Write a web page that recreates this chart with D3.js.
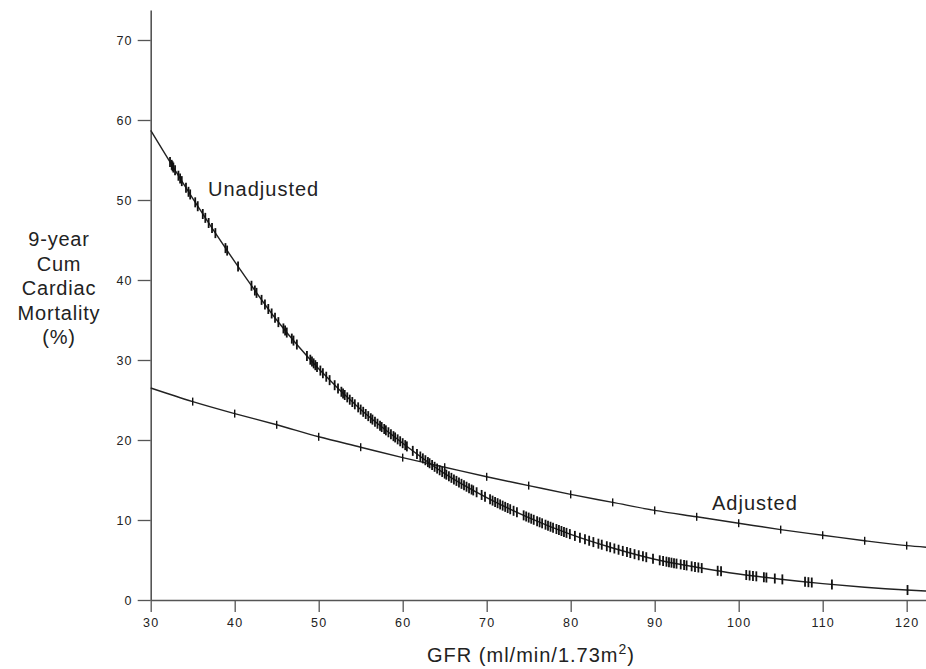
<!DOCTYPE html>
<html>
<head>
<meta charset="utf-8">
<script src="https://cdn.jsdelivr.net/npm/d3@7"></script>
<style>
  html, body { margin: 0; padding: 0; background: #fff; }
  svg { display: block; }
  text { font-family: "Liberation Sans", Arial, sans-serif; fill: #222; }
</style>
</head>
<body>
<svg id="chart" width="926" height="669"></svg>
<script>
// ---- data ----
const gfrTicks = [30, 40, 50, 60, 70, 80, 90, 100, 110, 120];
const mortalityTicks = [0, 10, 20, 30, 40, 50, 60, 70];

const adjustedGfr = [30, 35, 40, 45, 50, 55, 60, 65, 70, 75, 80, 85, 90, 95, 100, 105, 110, 115, 120, 122.3];
const adjustedMortality = [26.5, 24.8, 23.3, 21.9, 20.4, 19.1, 17.8, 16.6, 15.4, 14.3, 13.2, 12.2, 11.2, 10.4, 9.6, 8.8, 8.1, 7.4, 6.8, 6.6];
const adjustedMarks = [35, 40, 45, 50, 55, 60, 65, 70, 75, 80, 85, 90, 95, 100, 105, 110, 115, 120];

const unadjustedGfr = [30, 35, 40, 45, 50, 55, 60, 65, 70, 75, 80, 85, 90, 95, 100, 105, 110, 115, 120, 122.3];
const unadjustedMortality = [58.7, 50.2, 42.3, 35.0, 28.9, 23.8, 19.6, 15.8, 12.8, 10.3, 8.2, 6.5, 5.1, 4.1, 3.25, 2.6, 2.05, 1.6, 1.25, 1.12];
const unadjustedMarks = [
  32.3, 32.5, 32.6, 32.7, 32.9, 33.3, 33.5, 33.7, 34.2, 34.5, 34.7, 35.3, 35.6, 36.2, 36.5, 36.9, 37.3, 37.7,
  38.9, 39.1, 40.4, 42.0, 42.4, 42.6, 43.2, 43.6, 44.0, 44.4, 44.8, 45.2, 45.8, 46.0, 46.2, 46.8, 47.0, 47.4,
  48.6, 49.0, 49.2, 49.4, 49.6, 49.8, 50.2, 50.5, 50.9, 51.3, 51.9, 52.3, 52.7, 52.9, 53.1, 53.4, 53.7, 54.0,
  54.3, 54.7, 55.0, 55.3, 55.6, 55.9, 56.2, 56.4, 56.7, 57.0, 57.3, 57.5, 57.8, 58.0, 58.3, 58.6, 58.9, 59.1,
  59.4, 59.7, 60.0, 60.3, 60.5, 61.2, 61.7, 62.1, 62.4, 62.7, 63.0, 63.2, 63.5, 63.8, 64.1, 64.4, 64.7, 65.0,
  65.2, 65.5, 65.8, 66.1, 66.4, 66.7, 67.0, 67.3, 67.6, 67.9, 68.2, 68.4, 68.8, 69.4, 69.8, 70.4, 70.7, 71.0,
  71.3, 71.6, 71.9, 72.2, 72.5, 72.8, 73.2, 73.6, 74.4, 74.7, 75.0, 75.3, 75.6, 76.0, 76.3, 76.6, 77.0, 77.3,
  77.6, 77.9, 78.3, 78.6, 78.9, 79.2, 79.5, 79.9, 80.5, 81.1, 81.7, 82.2, 82.7, 83.3, 83.7, 84.3, 84.7, 85.2,
  85.7, 86.2, 86.7, 87.1, 87.6, 88.1, 88.6, 89.0, 89.8, 90.6, 91.0, 91.4, 91.7, 92.0, 92.3, 92.6, 93.1, 93.5,
  93.8, 94.4, 94.8, 95.2, 95.6, 97.5, 97.9, 100.9, 101.3, 101.7, 102.1, 103.0, 103.3, 104.3, 105.2, 107.9,
  108.3, 108.7, 111.1, 120.1
];
const yTitleLines = ["9-year", "Cum", "Cardiac", "Mortality", "(%)"];

// ---- layout ----
const svg = d3.select("#chart");
const x = d3.scaleLinear().domain([30, 122.3]).range([150.7, 926]);
const y = d3.scaleLinear().domain([0, 73.75]).range([600, 10]);

const axisColor = "#555";

// y axis
const yAxis = svg.append("g").attr("transform", `translate(${x(30)},0)`)
  .call(d3.axisLeft(y).tickValues(mortalityTicks).tickSize(13).tickPadding(5).tickSizeOuter(0));
yAxis.select(".domain").attr("stroke", axisColor).attr("stroke-width", 1.6);
yAxis.selectAll(".tick line").attr("stroke", axisColor).attr("stroke-width", 1.3);
yAxis.selectAll(".tick text").attr("font-size", 12.5).attr("letter-spacing", 1.2)
  .attr("font-family", "'Liberation Sans', Arial, sans-serif").attr("fill", "#222").attr("dy", "0.36em");

// x axis
const xAxis = svg.append("g").attr("transform", `translate(0,${y(0)})`)
  .call(d3.axisBottom(x).tickValues(gfrTicks).tickSize(12).tickPadding(6).tickSizeOuter(0));
xAxis.select(".domain").attr("stroke", axisColor).attr("stroke-width", 1.6);
xAxis.selectAll(".tick line").attr("stroke", axisColor).attr("stroke-width", 1.3);
xAxis.selectAll(".tick text").attr("font-size", 12.5).attr("letter-spacing", 1.2)
  .attr("font-family", "'Liberation Sans', Arial, sans-serif").attr("fill", "#222");

// curves
const line = d3.line().x(d => x(d[0])).y(d => y(d[1])).curve(d3.curveMonotoneX);
const adjData = adjustedGfr.map((g, i) => [g, adjustedMortality[i]]);
const unadjData = unadjustedGfr.map((g, i) => [g, unadjustedMortality[i]]);

const adjPath = svg.append("path").datum(adjData).attr("d", line)
  .attr("fill", "none").attr("stroke", "#222").attr("stroke-width", 1.4);
const unadjPath = svg.append("path").datum(unadjData).attr("d", line)
  .attr("fill", "none").attr("stroke", "#222").attr("stroke-width", 1.4);

// find the y of a drawn path at a given screen x
function yOnPath(pathNode, px) {
  const total = pathNode.getTotalLength();
  let lo = 0, hi = total;
  for (let k = 0; k < 40; k++) {
    const mid = (lo + hi) / 2;
    const p = pathNode.getPointAtLength(mid);
    if (p.x < px) lo = mid; else hi = mid;
  }
  return pathNode.getPointAtLength((lo + hi) / 2).y;
}

function drawMarks(pathSel, marks, half, width) {
  const node = pathSel.node();
  svg.append("g").selectAll("line").data(marks).join("line")
    .attr("x1", d => x(d)).attr("x2", d => x(d))
    .attr("y1", d => yOnPath(node, x(d)) - half)
    .attr("y2", d => yOnPath(node, x(d)) + half)
    .attr("stroke", "#111").attr("stroke-width", width);
}
drawMarks(adjPath, adjustedMarks, 4, 1.4);
drawMarks(unadjPath, unadjustedMarks, 5, 1.8);

// curve labels
svg.append("text").attr("x", 208).attr("y", 196).attr("font-size", 20).attr("letter-spacing", 1)
  .text("Unadjusted");
svg.append("text").attr("x", 712).attr("y", 510).attr("font-size", 20).attr("letter-spacing", 1)
  .text("Adjusted");

// y title
const yTitle = svg.append("text").attr("text-anchor", "middle").attr("font-size", 20).attr("letter-spacing", 0.8);
yTitle.selectAll("tspan").data(yTitleLines).join("tspan")
  .attr("x", 59).attr("y", (d, i) => 246 + i * 24.5).text(d => d);

// x title
const xTitle = svg.append("text").attr("x", 531).attr("y", 662).attr("text-anchor", "middle")
  .attr("font-size", 20).attr("letter-spacing", 1);
xTitle.append("tspan").text("GFR (ml/min/1.73m");
xTitle.append("tspan").attr("font-size", 14).attr("dy", -8).text("2");
xTitle.append("tspan").attr("dy", 8).text(")");
</script>
</body>
</html>
